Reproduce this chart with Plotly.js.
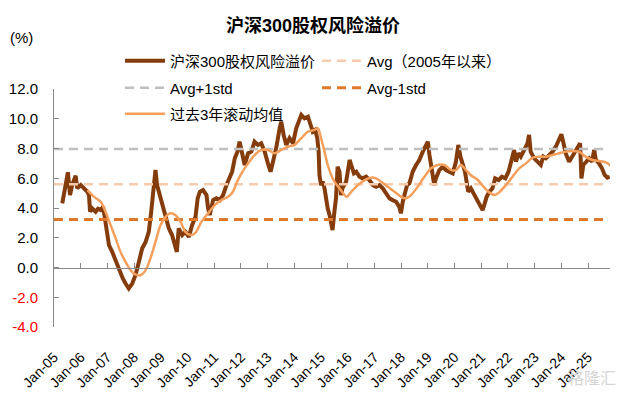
<!DOCTYPE html>
<html>
<head>
<meta charset="utf-8">
<script src="https://cdn.plot.ly/plotly-3.0.1.min.js"></script>
<style>html,body{margin:0;padding:0;background:#fff;}#chart{width:626px;height:397px;}</style>
</head>
<body>
<div id="chart"></div>
<script>
// ---- data (decimal years, % values) ----
const erpYears = [2005.31,2005.40,2005.44,2005.52,2005.60,2005.68,2005.81,2005.87,2006.00,2006.10,2006.18,2006.25,2006.31,2006.35,2006.43,2006.56,2006.65,2006.75,2006.84,2006.93,2007.00,2007.06,2007.18,2007.28,2007.37,2007.49,2007.58,2007.68,2007.80,2007.93,2008.05,2008.18,2008.30,2008.43,2008.55,2008.64,2008.74,2008.80,2008.86,2008.96,2009.05,2009.18,2009.30,2009.42,2009.55,2009.60,2009.67,2009.80,2009.92,2010.05,2010.17,2010.30,2010.38,2010.46,2010.58,2010.71,2010.77,2010.83,2010.96,2011.08,2011.21,2011.33,2011.46,2011.58,2011.67,2011.77,2011.87,2011.95,2012.08,2012.14,2012.27,2012.39,2012.51,2012.64,2012.76,2012.89,2013.01,2013.11,2013.20,2013.33,2013.45,2013.51,2013.60,2013.70,2013.82,2013.95,2014.07,2014.16,2014.26,2014.38,2014.51,2014.61,2014.69,2014.78,2014.86,2014.91,2014.94,2015.00,2015.07,2015.13,2015.19,2015.25,2015.32,2015.38,2015.43,2015.50,2015.56,2015.62,2015.69,2015.75,2015.80,2015.94,2016.07,2016.13,2016.23,2016.32,2016.44,2016.56,2016.69,2016.81,2016.94,2017.06,2017.19,2017.31,2017.44,2017.56,2017.68,2017.81,2017.93,2017.99,2018.06,2018.12,2018.22,2018.31,2018.43,2018.56,2018.68,2018.81,2018.93,2019.00,2019.06,2019.12,2019.18,2019.24,2019.30,2019.43,2019.55,2019.68,2019.80,2019.93,2020.05,2020.14,2020.22,2020.30,2020.39,2020.47,2020.51,2020.61,2020.74,2020.85,2020.93,2021.05,2021.11,2021.20,2021.30,2021.42,2021.52,2021.65,2021.77,2021.90,2022.02,2022.15,2022.23,2022.30,2022.39,2022.48,2022.61,2022.73,2022.79,2022.85,2022.98,2023.10,2023.23,2023.32,2023.42,2023.54,2023.67,2023.79,2023.92,2024.00,2024.08,2024.16,2024.29,2024.41,2024.54,2024.64,2024.70,2024.75,2024.82,2024.93,2025.04,2025.14,2025.23,2025.29,2025.41,2025.52,2025.62,2025.72,2025.81];
const erpValues = [4.31,5.30,5.77,6.40,4.87,5.54,6.17,5.32,5.54,5.35,5.20,5.09,4.87,3.75,3.97,3.75,3.95,3.86,4.08,3.07,2.20,1.50,1.05,0.60,0.04,-0.52,-0.75,-1.08,-1.41,-1.08,-0.52,0.38,1.28,1.72,2.40,3.75,5.77,6.55,5.54,4.87,4.20,3.52,2.63,2.18,1.28,1.05,2.63,2.18,2.40,2.06,2.85,3.41,4.65,5.09,5.20,4.87,3.97,3.52,4.53,4.65,4.53,4.87,5.54,5.99,6.44,7.34,7.79,8.46,7.34,6.89,7.68,7.79,8.46,8.24,8.35,7.79,7.00,6.44,7.11,8.12,9.36,9.80,8.91,8.24,8.69,8.35,9.36,9.80,10.26,10.03,10.14,9.58,9.13,9.25,8.69,7.79,6.22,5.54,5.77,5.32,4.42,3.97,3.52,2.85,2.51,3.75,4.65,6.77,6.44,4.87,5.32,5.77,7.23,6.89,6.33,6.44,6.10,5.99,6.10,5.88,5.54,5.43,5.54,5.32,4.98,4.65,4.53,4.42,4.08,3.64,4.42,4.87,5.54,5.66,6.44,6.89,7.23,7.79,8.24,8.46,7.56,6.89,6.22,5.54,5.99,6.55,6.77,6.55,6.44,6.33,7.11,8.24,7.45,6.89,6.44,5.54,5.09,5.32,4.87,4.53,4.31,3.86,4.20,4.75,5.09,5.32,5.99,5.88,6.10,5.99,6.44,7.45,7.90,7.11,7.68,7.45,7.90,8.35,8.91,7.79,7.34,7.11,6.89,7.45,7.34,7.56,7.79,8.12,8.57,8.96,8.35,7.68,7.11,7.45,7.79,8.12,8.35,5.99,6.89,7.11,7.34,7.11,7.90,7.23,7.00,6.67,6.22,6.04,6.10];

const rollYears = [2006.25,2006.50,2006.75,2006.93,2007.12,2007.31,2007.49,2007.68,2007.87,2008.05,2008.24,2008.43,2008.61,2008.80,2008.99,2009.18,2009.36,2009.55,2009.74,2009.92,2010.11,2010.30,2010.52,2010.77,2011.02,2011.27,2011.52,2011.70,2011.83,2012.02,2012.27,2012.51,2012.76,2013.01,2013.26,2013.51,2013.76,2014.01,2014.26,2014.51,2014.76,2014.88,2015.00,2015.13,2015.25,2015.38,2015.50,2015.69,2015.96,2016.13,2016.38,2016.63,2016.88,2017.06,2017.25,2017.50,2017.75,2018.00,2018.18,2018.37,2018.62,2018.87,2019.12,2019.37,2019.62,2019.87,2020.05,2020.24,2020.43,2020.61,2020.86,2021.05,2021.30,2021.49,2021.67,2021.92,2022.17,2022.42,2022.67,2022.92,2023.17,2023.42,2023.67,2023.92,2024.16,2024.41,2024.66,2024.90,2025.16,2025.41,2025.66,2025.85];
const rollValues = [5.20,4.75,4.42,3.75,2.85,1.95,1.05,0.38,-0.18,-0.47,-0.52,-0.18,0.61,1.72,2.85,3.41,3.64,3.52,3.07,2.40,2.18,2.35,3.07,3.64,4.20,4.53,4.75,5.09,5.66,6.33,7.00,7.56,7.90,7.90,7.68,7.90,8.12,8.24,8.69,9.13,9.25,9.36,8.69,7.79,6.89,6.22,5.77,5.32,4.75,5.09,5.54,5.88,6.04,5.99,5.77,5.43,5.09,4.75,4.65,4.87,5.43,6.10,6.67,6.89,6.89,6.55,6.55,6.89,6.55,6.20,5.90,5.50,5.05,4.87,5.05,5.54,6.10,6.67,7.00,7.38,7.45,7.45,7.56,7.68,7.79,7.83,7.79,7.45,7.23,7.16,7.07,6.84];

const refYears = [2005.0, 2025.6];
const avgLevel = 5.60;
const upperLevel = 7.97;
const lowerLevel = 3.23;

const yearTicks = [2005,2006,2007,2008,2009,2010,2011,2012,2013,2014,2015,2016,2017,2018,2019,2020,2021,2022,2023,2024,2025];
const yearLabels = ['Jan-05','Jan-06','Jan-07','Jan-08','Jan-09','Jan-10','Jan-11','Jan-12','Jan-13','Jan-14','Jan-15','Jan-16','Jan-17','Jan-18','Jan-19','Jan-20','Jan-21','Jan-22','Jan-23','Jan-24','Jan-25'];
const yTicks = [-4,-2,0,2,4,6,8,10,12];

const names = ['沪深300股权风险溢价','Avg（2005年以来）','Avg+1std','Avg-1std','过去3年滚动均值'];

// ---- build ----
const FONT = 'Liberation Sans, Arial, Noto Sans CJK SC, sans-serif';
const yTickText = yTicks.map(v => v < 0 ? '<span style="color:#FF0000">' + v.toFixed(1) + '</span>' : v.toFixed(1));

const traces = [
  {x: erpYears, y: erpValues, type: 'scatter', mode: 'lines', name: names[0], legend: 'legend',
   line: {color: '#843C0C', width: 4}},
  {x: refYears, y: refYears.map(() => avgLevel), type: 'scatter', mode: 'lines', name: names[1], legend: 'legend2',
   line: {color: '#F8CBAD', width: 2.5, dash: '9px,6px'}},
  {x: refYears, y: refYears.map(() => upperLevel), type: 'scatter', mode: 'lines', name: names[2], legend: 'legend3',
   line: {color: '#BFBFBF', width: 2.5, dash: '9px,6px'}},
  {x: refYears, y: refYears.map(() => lowerLevel), type: 'scatter', mode: 'lines', name: names[3], legend: 'legend4',
   line: {color: '#E0782A', width: 3, dash: '9px,6px'}},
  {x: rollYears, y: rollValues, type: 'scatter', mode: 'lines', name: names[4], legend: 'legend5',
   line: {color: '#F4A05C', width: 2.5, shape: 'spline', smoothing: 0.8}}
];

function leg(px, py) {
  return {xref: 'container', yref: 'container', x: px / 626, y: 1 - py / 397, xanchor: 'left', yanchor: 'middle',
    bgcolor: 'rgba(0,0,0,0)', borderwidth: 0, itemwidth: 40, font: {family: FONT, size: 15, color: '#000'},
    orientation: 'h'};
}

const layout = {
  width: 626, height: 397,
  paper_bgcolor: '#fff', plot_bgcolor: '#fff',
  margin: {l: 54, r: 16, t: 89, b: 70, pad: 0, autoexpand: false},
  font: {family: FONT, size: 14, color: '#000'},
  title: {text: '<b>沪深300股权风险溢价</b>', x: 0.5, xanchor: 'center', xref: 'container',
          y: 1 - 26 / 397, yanchor: 'middle', yref: 'container',
          font: {family: FONT, size: 18, color: '#000'}},
  showlegend: true,
  legend: leg(120, 61),
  legend2: leg(317, 61),
  legend3: leg(120, 88),
  legend4: leg(317, 88),
  legend5: leg(120, 114),
  xaxis: {type: 'linear', range: [2005, 2025.82], anchor: 'free', position: 0.25,
          showline: true, linecolor: '#898989', linewidth: 1, showgrid: false, zeroline: false,
          tickmode: 'array', tickvals: yearTicks, ticktext: yearLabels,
          ticks: 'inside', ticklen: 5, tickcolor: '#898989', tickwidth: 1,
          tickangle: -45, ticklabelstandoff: 75, automargin: false,
          tickfont: {family: FONT, size: 14, color: '#000'}},
  yaxis: {range: [-4, 12], showline: true, linecolor: '#898989', linewidth: 1, showgrid: false, zeroline: false,
          tickmode: 'array', tickvals: yTicks, ticktext: yTickText,
          ticks: 'inside', ticklen: 5, tickcolor: '#898989', tickwidth: 1,
          ticklabelstandoff: 12, automargin: false,
          tickfont: {family: FONT, size: 15, color: '#000'}},
  annotations: [
    {text: '(%)', xref: 'paper', yref: 'paper', x: (21 - 54) / 556, y: (326.7 - 38) / 237.6,
     xanchor: 'center', yanchor: 'middle', showarrow: false, font: {family: FONT, size: 15, color: '#000'}},
    {text: '格隆汇', xref: 'paper', yref: 'paper', x: (592 - 54) / 556, y: (326.7 - 378) / 237.6,
     xanchor: 'center', yanchor: 'middle', showarrow: false, font: {family: FONT, size: 16, color: '#D5D5D5'}}
  ]
};

Plotly.newPlot('chart', traces, layout, {staticPlot: true, displayModeBar: false});
</script>
</body>
</html>
